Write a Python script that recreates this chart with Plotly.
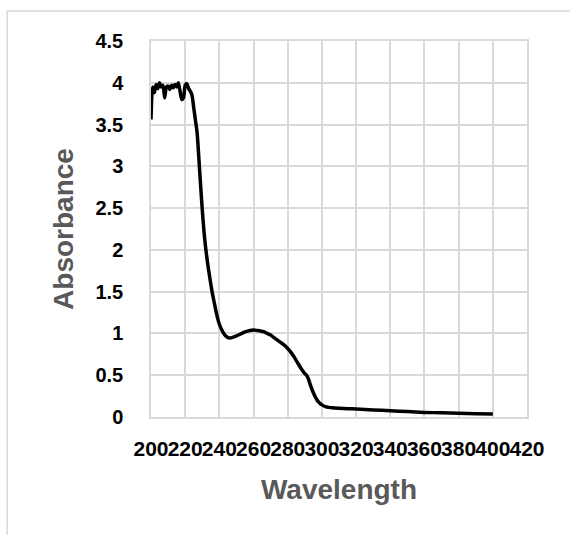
import plotly.graph_objects as go

wavelength = [200, 200.5, 201, 202, 203, 204, 205, 206, 207, 208, 209, 210, 211, 212, 213, 214,
              215, 216, 217, 218, 219, 220, 221, 222, 223, 224, 225, 226, 227, 228, 229, 230,
              231, 232, 233, 234, 235, 236, 237, 238, 239, 240, 242, 244, 246, 248, 250, 252,
              254, 256, 258, 260, 262, 264, 266, 268, 270, 272, 274, 276, 278, 280, 282, 284,
              286, 288, 290, 291, 292, 293, 294, 295, 296, 297, 298, 299, 300, 302, 304, 306,
              310, 315, 320, 330, 340, 350, 360, 370, 380, 390, 400]
absorbance = [3.56, 3.85, 3.95, 3.88, 3.98, 3.93, 4.00, 3.95, 3.97, 3.82, 3.95, 3.96, 3.92, 3.97, 3.94, 3.98,
              3.95, 4.00, 3.90, 3.80, 3.82, 3.97, 3.99, 3.93, 3.90, 3.85, 3.70, 3.55, 3.40, 3.10, 2.78, 2.48,
              2.22, 2.02, 1.86, 1.72, 1.59, 1.47, 1.37, 1.27, 1.18, 1.11, 1.02, 0.965, 0.945, 0.955, 0.97, 0.99,
              1.01, 1.025, 1.035, 1.04, 1.035, 1.03, 1.02, 1.00, 0.98, 0.95, 0.92, 0.89, 0.86, 0.82, 0.77, 0.71,
              0.64, 0.575, 0.52, 0.50, 0.46, 0.40, 0.34, 0.29, 0.245, 0.21, 0.18, 0.16, 0.145, 0.125, 0.115, 0.11,
              0.105, 0.10, 0.095, 0.085, 0.075, 0.065, 0.055, 0.05, 0.045, 0.04, 0.035]

x_ticks = [200, 220, 240, 260, 280, 300, 320, 340, 360, 380, 400, 420]
y_ticks = [0, 0.5, 1, 1.5, 2, 2.5, 3, 3.5, 4, 4.5]
y_tick_labels = ["0", "0.5", "1", "1.5", "2", "2.5", "3", "3.5", "4", "4.5"]

grid = "#d9d9d9"
fig = go.Figure(go.Scatter(x=wavelength, y=absorbance, mode="lines",
                           line=dict(color="black", width=3.5, shape="spline", smoothing=0.6),
                           showlegend=False))

fig.update_layout(
    width=570, height=535,
    margin=dict(l=151, r=42.5, t=41, b=117.5, autoexpand=False),
    paper_bgcolor="white", plot_bgcolor="white",
    font=dict(family="Liberation Sans", color="black"),
    xaxis=dict(range=[200, 420], tickvals=x_ticks, ticktext=[str(v) for v in x_ticks],
               showgrid=True, gridcolor=grid, gridwidth=1.5,
               showline=True, linecolor=grid, linewidth=1.5, mirror=True,
               zeroline=False, tickangle=0, automargin=False,
               tickfont=dict(size=21, family="Liberation Sans", color="black", weight="bold"),
               ticklabelstandoff=12,
               title=dict(text="Wavelength", standoff=20,
                          font=dict(size=28, color="#595959", family="Liberation Sans", weight="bold"))),
    yaxis=dict(range=[0, 4.5], tickvals=y_ticks, ticktext=y_tick_labels,
               showgrid=True, gridcolor=grid, gridwidth=1.5,
               showline=True, linecolor=grid, linewidth=1.5, mirror=True,
               zeroline=False, automargin=False,
               tickfont=dict(size=20, family="Liberation Sans", color="black", weight="bold"),
               ticklabelstandoff=22,
               title=dict(text="Absorbance", standoff=14,
                          font=dict(size=28, color="#595959", family="Liberation Sans", weight="bold"))),
    shapes=[
        dict(type="line", xref="paper", yref="paper", x0=-0.3825, x1=1.2, y0=1.0797, y1=1.0797,
             line=dict(color=grid, width=1.5)),
        dict(type="line", xref="paper", yref="paper", x0=-0.3825, x1=-0.3825, y0=-0.4, y1=1.0797,
             line=dict(color=grid, width=1.5)),
    ],
)

fig.write_html("out.html", config={"displayModeBar": False},
               post_script="document.body.style.margin='0';")
